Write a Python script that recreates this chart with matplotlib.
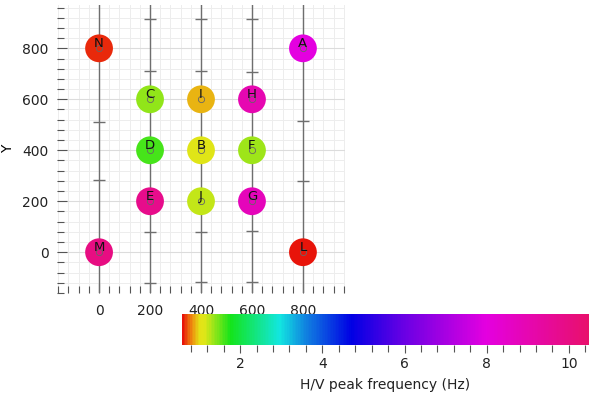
import numpy as np
import matplotlib
matplotlib.use("Agg")
import matplotlib.pyplot as plt
from matplotlib.colors import LinearSegmentedColormap, Normalize
from matplotlib.ticker import MultipleLocator
import matplotlib.cm as cm

# ---- data ----
labels = ["N", "A", "C", "I", "H", "D", "B", "F", "E", "J", "G", "M", "L"]
xs = [0, 800, 200, 400, 600, 200, 400, 600, 200, 400, 600, 0, 800]
ys = [800, 800, 600, 600, 600, 400, 400, 400, 200, 200, 200, 0, 0]
freqs = [0.65, 8.0, 1.38, 0.9, 9.0, 1.62, 1.1, 1.35, 9.8, 1.22, 8.8, 10.0, 0.6]

line_x = [0, 200, 400, 600, 800]
# small cross marks along each vertical profile line
mark_x = [0, 0, 200, 200, 200, 200, 400, 400, 400, 400, 600, 600, 600, 600, 800, 800]
mark_y = [512, 283, 917, 712, 81, -119, 917, 712, 81, -115, 914, 708, 85, -115, 515, 281]

cmin, cmax = 0.585, 10.49
cstops = [0.6, 0.8, 1.0, 1.12, 1.75, 2.95, 3.6, 4.7, 6.0, 8.0, 10.49]
ccolors = ["#e8140a", "#ee8a0e", "#e4e216", "#dfe618", "#14e41a", "#12e6e0", "#1080e0",
           "#0000e4", "#6a00e4", "#e400e0", "#e8106c"]

# ---- figure ----
W, H = 589, 398
fig = plt.figure(figsize=(W / 100, H / 100), dpi=100)

def rect(x0, y0, x1, y1):
    return [x0 / W, 1 - y1 / H, (x1 - x0) / W, (y1 - y0) / H]

nodes = [(s - cmin) / (cmax - cmin) for s in cstops]
nodes[0] = 0.0
nodes[-1] = 1.0
cmap = LinearSegmentedColormap.from_list("hv", list(zip(nodes, ccolors)))
norm = Normalize(cmin, cmax)

ax = fig.add_axes(rect(57, 5, 345, 293))
ax.set_xlim(-165, 965)
ax.set_ylim(-160, 970)
for s in ax.spines.values():
    s.set_visible(False)

ax.xaxis.set_major_locator(MultipleLocator(200))
ax.xaxis.set_minor_locator(MultipleLocator(40))
ax.yaxis.set_major_locator(MultipleLocator(200))
ax.yaxis.set_minor_locator(MultipleLocator(40))
ax.grid(which="minor", color="#ededed", lw=0.7)
ax.grid(which="major", color="#dcdcdc", lw=0.8)
ax.tick_params(which="both", direction="in", color="#555555", width=0.8,
               labelsize=10, labelcolor="#222222")
ax.tick_params(which="major", length=7)
ax.tick_params(which="minor", length=5)
ax.tick_params(axis="x", pad=8)
ax.tick_params(axis="y", pad=6)
ax.set_ylabel("Y", fontsize=10, labelpad=5)

for lx in line_x:
    ax.axvline(lx, color="#6e6e6e", lw=1.0, zorder=1.8)
ax.plot(mark_x, mark_y, ls="none", marker="_", ms=9, mew=1.0, color="#6e6e6e", zorder=1.8)

ax.scatter(xs, ys, s=400, c=freqs, cmap=cmap, norm=norm, edgecolors="none", zorder=2)
ax.plot(xs, ys, ls="none", marker="o", ms=4.5, mfc="none", mec="#666666", mew=0.6, zorder=3)
for lab, x, y in zip(labels, xs, ys):
    ax.annotate(lab, (x, y), xytext=(0, -1.5), textcoords="offset points",
                ha="center", va="bottom", fontsize=9.5, color="#111111", zorder=4)

# ---- colorbar ----
cax = fig.add_axes(rect(182, 314, 589, 345))
sm = cm.ScalarMappable(norm=norm, cmap=cmap)
cb = fig.colorbar(sm, cax=cax, orientation="horizontal")
cb.outline.set_visible(False)
cax.set_xlim(cmin, cmax)
cax.xaxis.set_major_locator(MultipleLocator(2))
cax.xaxis.set_minor_locator(MultipleLocator(0.4))
cax.tick_params(which="both", direction="out", color="#555555", width=0.8,
                labelsize=10, labelcolor="#222222")
cax.tick_params(which="major", length=6, pad=3)
cax.tick_params(which="minor", length=5)
cax.set_xlabel("H/V peak frequency (Hz)", fontsize=10, labelpad=5, color="#222222")

fig.savefig("out.png", dpi=100)
